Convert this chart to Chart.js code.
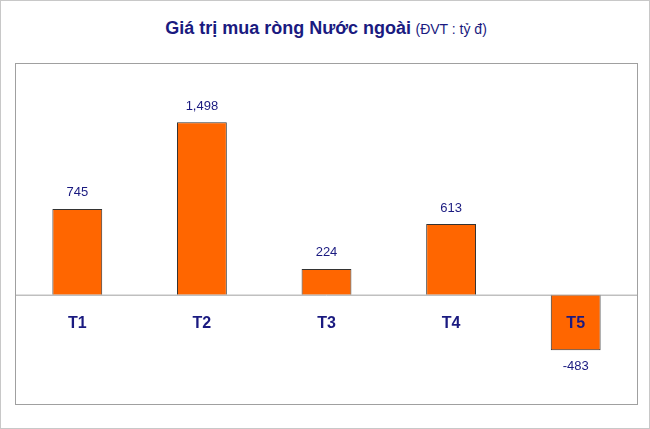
<!DOCTYPE html>
<html><head><meta charset="utf-8">
<script src="https://cdn.jsdelivr.net/npm/chart.js"></script>
<style>
body{margin:0;background:#fff;}
#wrap{position:relative;width:650px;height:429px;box-sizing:border-box;border:1px solid #c8c8c8;}
#title{position:absolute;top:17px;left:0;width:650px;text-align:center;font-family:"Liberation Sans",Arial,sans-serif;color:#1a1a80;}
#title b{font-size:18px;}
#title span{font-size:14px;}
canvas{position:absolute;left:0;top:0;}
</style></head><body>
<div id="wrap">
<div id="title"><b>Giá trị mua ròng Nước ngoài</b> <span>(ĐVT : tỷ đ)</span></div>
<canvas id="c" width="650" height="429"></canvas>
</div>
<script>
const categories=["T1","T2","T3","T4","T5"];
const values=[745,1498,224,613,-483];
const deco={id:'deco',
 afterDatasetsDraw(ch){
  const {ctx,chartArea:a,scales:{x,y}}=ch;
  ctx.save();
  const z=y.getPixelForValue(0);
  ctx.strokeStyle='#a0a0a0';ctx.lineWidth=1;
  ctx.beginPath();ctx.moveTo(a.left,z+0.5);ctx.lineTo(a.right,z+0.5);ctx.stroke();
  ctx.strokeRect(a.left+0.5,a.top+0.5,a.right-a.left-1,a.bottom-a.top-1);
  ctx.textAlign='center';ctx.textBaseline='middle';
  categories.forEach((c,i)=>{
   const px=x.getPixelForValue(i);
   ctx.fillStyle='#1a1a80';ctx.font='bold 16px "Liberation Sans", Arial';
   ctx.fillText(c,px,z+29);
   const v=values[i];const py=y.getPixelForValue(v);
   ctx.font='13px "Liberation Sans", Arial';
   ctx.fillText(v.toLocaleString('en-US'),px,v>=0?py-16:py+16);
  });
  ctx.restore();
 }};
new Chart(document.getElementById('c'),{type:'bar',
 data:{labels:categories,datasets:[{data:values,backgroundColor:'#ff6600',borderColor:'#333',borderWidth:1,categoryPercentage:1,barPercentage:0.4}]},
 options:{responsive:false,animation:false,
  layout:{padding:{left:14,right:13,top:62,bottom:25}},
  plugins:{legend:{display:false},tooltip:{enabled:false}},
  scales:{x:{display:false},y:{display:false,min:-958,max:2012}}},
 plugins:[deco]});
</script></body></html>
